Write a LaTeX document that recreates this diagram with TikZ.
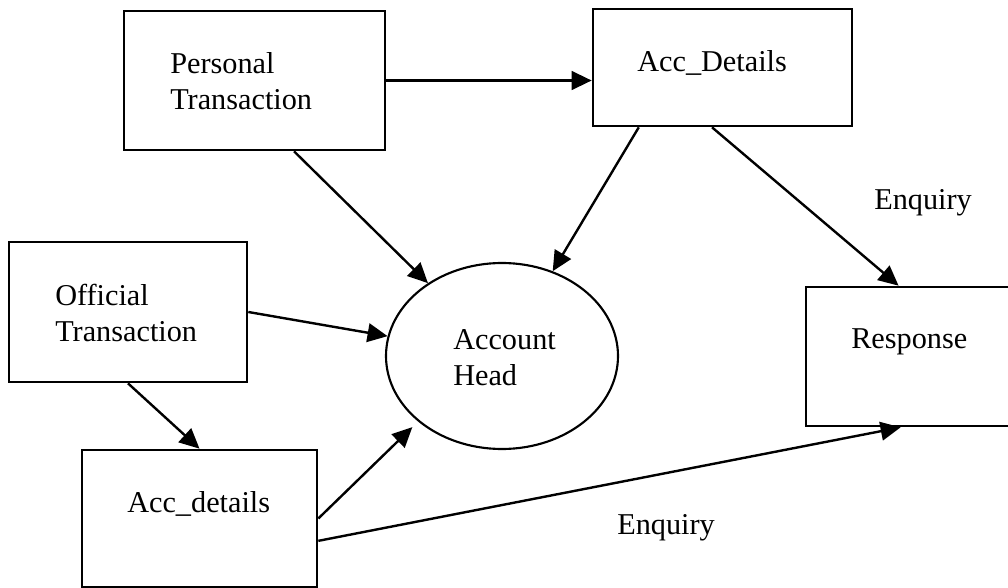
\documentclass[tikz,border=0pt]{standalone}
\usepackage{fontspec}
\setmainfont{Liberation Serif}
\usetikzlibrary{shapes.geometric,arrows.meta,calc}
\begin{document}
\begin{tikzpicture}[x=0.75pt,y=-0.75pt,
  box/.style={draw,line width=2pt,inner sep=0pt},
  lbl/.style={inner sep=0pt,font=\fontsize{22.7}{27}\selectfont,align=left},
  fl/.style={line width=1.8pt,-{Triangle[length=15pt,width=14pt]}}]
\useasboundingbox (0,0) rectangle (1008,588);
\node[box,minimum width=195.75pt,minimum height=104.25pt] (pt) at (254.5,80.5) {};
\node[box,minimum width=194.25pt,minimum height=87.75pt] (ad) at (722.5,67.5) {};
\node[box,minimum width=178.5pt,minimum height=105pt] (ot) at (128,312) {};
\node[box,minimum width=176.25pt,minimum height=102.75pt] (ad2) at (199.5,518.5) {};
\node[box,minimum width=154.5pt,minimum height=104.25pt] (resp) at (909,356.5) {};
\node[draw,ellipse,line width=1.6pt,inner sep=0pt,minimum width=174pt,minimum height=139.5pt] (head) at (502,356) {};
\node[lbl,anchor=west] (ptt) at (170,81) {Personal\\Transaction};
\node[lbl,anchor=base west] (adt) at (637,72) {Acc\_Details};
\node[lbl,anchor=west] (ott) at (55,313) {Official\\Transaction};
\node[lbl,anchor=base west] (ad2t) at (127,512) {Acc\_details};
\node[lbl,anchor=west] (headt) at (453,358) {Account\\Head};
\node[lbl,anchor=base west] (respt) at (851,349) {Response};
\node[lbl,anchor=base west] (enq1) at (874,210) {Enquiry};
\node[lbl,anchor=base west] (enq2) at (617,534) {Enquiry};
\draw[fl] (pt.east) -- (pt.east -| ad.west);
\draw[fl] ($(pt.south west)!0.65!(pt.south east)$) -- (head);
\draw[fl] ($(ad.south west)!0.18!(ad.south east)$) -- (head);
\draw[fl] ($(ad.south west)!0.46!(ad.south east)$) -- ($(resp.north west)!0.45!(resp.north east)$);
\draw[fl] (ot.east) -- (head);
\draw[fl] (ot.south) -- (ad2.north);
\draw[fl,shorten >=6pt] (ad2.east) -- (head.218);
\draw[fl] ($(ad2.north east)!0.66!(ad2.south east)$) -- ($(resp.south west)!0.46!(resp.south east)$);
\end{tikzpicture}
\end{document}
